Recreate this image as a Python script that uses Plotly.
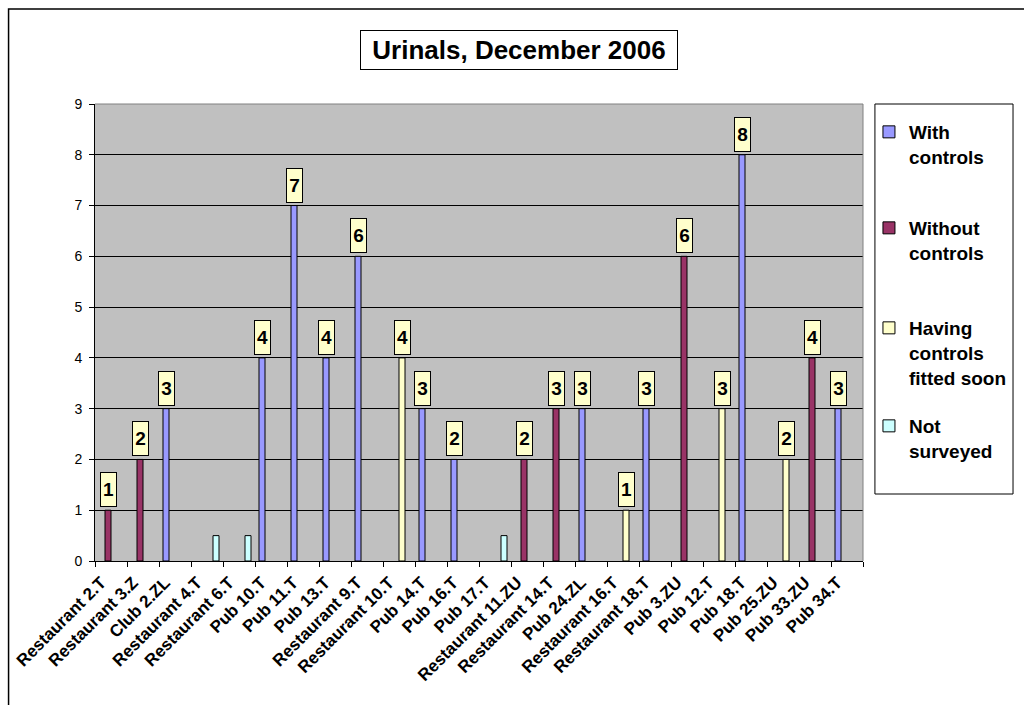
import plotly.graph_objects as go

categories = ["Restaurant 2.T", "Restaurant 3.Z", "Club 2.ZL", "Restaurant 4.T", "Restaurant 6.T",
              "Pub 10.T", "Pub 11.T", "Pub 13.T", "Restaurant 9.T", "Restaurant 10.T",
              "Pub 14.T", "Pub 16.T", "Pub 17.T", "Restaurant 11.ZU", "Restaurant 14.T",
              "Pub 24.ZL", "Restaurant 16.T", "Restaurant 18.T", "Pub 3.ZU", "Pub 12.T",
              "Pub 18.T", "Pub 25.ZU", "Pub 33.ZU", "Pub 34.T"]

with_controls = [None, None, 3, None, None, 4, 7, 4, 6, None, 3, 2,
                 None, None, None, 3, None, 3, None, None, 8, None, None, 3]
without_controls = [1, 2, None, None, None, None, None, None, None, None, None, None,
                    None, 2, 3, None, None, None, 6, None, None, None, 4, None]
fitted_soon = [None, None, None, None, None, None, None, None, None, 4, None, None,
               None, None, None, None, 1, None, None, 3, None, 2, None, None]
not_surveyed = [None, None, None, 0.5, 0.5, None, None, None, None, None, None, None,
                0.5, None, None, None, None, None, None, None, None, None, None, None]

series_names = ["With<br>controls", "Without<br>controls",
                "Having<br>controls<br>fitted soon", "Not<br>surveyed"]
series_values = [with_controls, without_controls, fitted_soon, not_surveyed]
series_colors = ["#9999FF", "#993366", "#FFFFCC", "#CCFFFF"]
labelled = [True, True, True, False]

y_ticks = list(range(0, 10))

FONT = "Arial, Liberation Sans, sans-serif"
W, H = 1024, 705
ML, MR, MT, MB = 95, 156, 104, 144
PW, PH = W - ML - MR, H - MT - MB


def px_x(px):
    return (px - ML) / PW


def px_y(py):
    return (H - MB - py) / PH


BARGAP = 0.25
n_series = len(series_values)
bar_w = (1 - BARGAP) / n_series
offsets = [-(1 - BARGAP) / 2 + bar_w * (k + 0.5) for k in range(n_series)]

legend_keys = ["legend", "legend2", "legend3", "legend4"]
legend_tops = [113, 209, 309, 407]

fig = go.Figure()
annotations = []
for k, (name, vals, col) in enumerate(zip(series_names, series_values, series_colors)):
    fig.add_trace(go.Bar(
        x=categories, y=vals, name=name,
        marker=dict(color=col, line=dict(color="black", width=1)),
        legend=legend_keys[k],
    ))
    if labelled[k]:
        for i, v in enumerate(vals):
            if v is None:
                continue
            annotations.append(dict(
                x=i + offsets[k], y=v, xref="x", yref="y",
                text="<b>%g</b>" % v, showarrow=False,
                yanchor="bottom", yshift=3,
                bgcolor="#FFFFCC", bordercolor="black", borderwidth=1,
                borderpad=0, width=15, height=33,
                font=dict(family=FONT, size=19, color="black"),
            ))

annotations.append(dict(
    x=px_x(522), y=px_y(50), xref="paper", yref="paper",
    text="<b>Urinals, December 2006</b>", showarrow=False,
    xanchor="center", yanchor="middle",
    bgcolor="white", bordercolor="black", borderwidth=1,
    width=314, height=36, borderpad=1,
    font=dict(family=FONT, size=26, color="black"),
))

legend_common = dict(
    font=dict(family=FONT, size=19, color="black", weight="bold"),
    bgcolor="rgba(0,0,0,0)", borderwidth=0, valign="top",
    xanchor="left", yanchor="top", x=px_x(874),
)

layout = dict(
    width=W, height=H,
    margin=dict(l=ML, r=MR, t=MT, b=MB, pad=0),
    paper_bgcolor="white", plot_bgcolor="#C0C0C0",
    barmode="group", bargap=BARGAP, bargroupgap=0,
    showlegend=True,
    font=dict(family=FONT, color="black"),
    xaxis=dict(
        type="category", categoryorder="array", categoryarray=categories,
        tickangle=-45, tickfont=dict(family=FONT, size=17, color="black", weight="bold"),
        showline=True, linecolor="black", linewidth=1,
        ticks="outside", tickson="boundaries", ticklen=5, tickcolor="black",
        ticklabelshift=-10, ticklabelstandoff=4,
        showgrid=False, zeroline=False, range=[-0.5, len(categories) - 0.5],
    ),
    yaxis=dict(
        range=[0, 9], tickvals=y_ticks, ticktext=[str(t) for t in y_ticks],
        tickfont=dict(family=FONT, size=14, color="black"),
        showline=True, linecolor="black", linewidth=1,
        ticks="outside", ticklen=5, tickcolor="black", ticklabelstandoff=4,
        showgrid=True, gridcolor="black", gridwidth=1, zeroline=False,
    ),
    annotations=annotations,
    shapes=[
        # outer chart frame
        dict(type="rect", xref="paper", yref="paper",
             x0=px_x(8), x1=px_x(1040), y0=px_y(720), y1=px_y(9),
             line=dict(color="black", width=1.5), fillcolor="rgba(0,0,0,0)", layer="below"),
        # plot area top/right border
        dict(type="line", xref="paper", yref="paper", x0=0, x1=1, y0=1, y1=1,
             line=dict(color="#808080", width=1)),
        dict(type="line", xref="paper", yref="paper", x0=1, x1=1, y0=0, y1=1,
             line=dict(color="#808080", width=1)),
        # legend box
        dict(type="rect", xref="paper", yref="paper",
             x0=px_x(880), x1=px_x(1019), y0=px_y(494), y1=px_y(104),
             line=dict(color="black", width=1), fillcolor="white", layer="below"),
    ],
)
for key, top in zip(legend_keys, legend_tops):
    layout[key] = dict(legend_common, y=px_y(top))

fig.update_layout(**layout)
fig.write_html("out.html",
               config={"displayModeBar": False},
               post_script="document.body.style.margin='0';document.body.style.overflow='hidden';")
